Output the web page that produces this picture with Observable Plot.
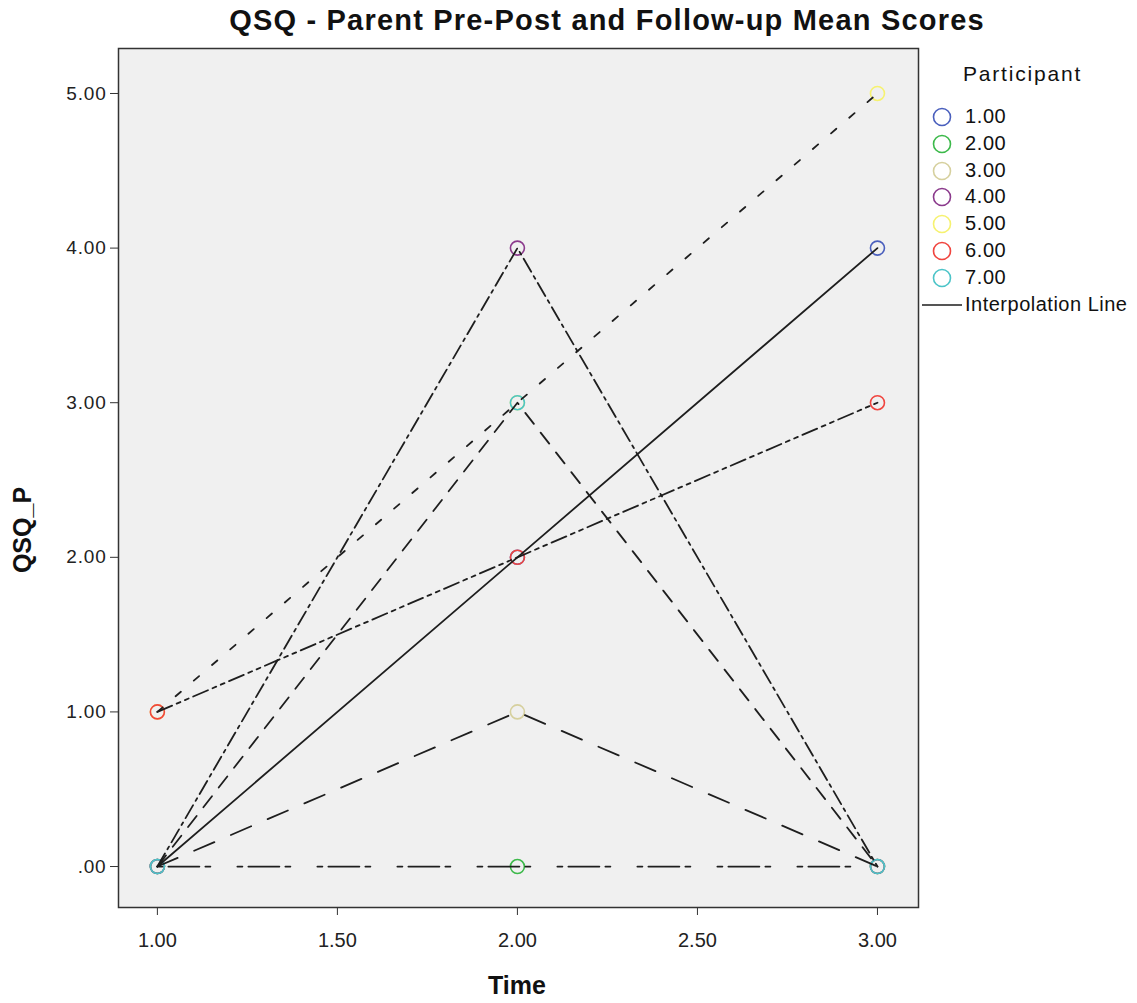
<!DOCTYPE html>
<html><head><meta charset="utf-8">
<script src="https://cdn.jsdelivr.net/npm/d3@7"></script>
<script src="https://cdn.jsdelivr.net/npm/@observablehq/plot@0.6"></script>
<style>
body{margin:0;background:#fff;font-family:"Liberation Sans",Arial,sans-serif;color:#111;}
#wrap{position:relative;width:1137px;height:1003px;overflow:hidden;}
#chart{position:absolute;left:0;top:0;}
#chart svg text{font-family:"Liberation Sans",Arial,sans-serif !important;}
#chart svg g[aria-label^="x-axis"] text{font-size:20px !important;}
#chart svg g[aria-label^="y-axis"] text{font-size:19px !important;letter-spacing:0.8px;}
.abs{position:absolute;white-space:nowrap;}
#title{left:607px;top:4px;transform:translateX(-50%);font-weight:bold;font-size:29px;letter-spacing:1.2px;}
#xlab{left:517px;top:971px;transform:translateX(-50%);font-weight:bold;font-size:25px;}
#ylab{left:22px;top:530px;transform:translate(-50%,-50%) rotate(-90deg);font-weight:bold;font-size:25px;}
#legend{left:0;top:0;}
.lt{font-size:20px;}
</style></head><body>
<div id="wrap">
  <div id="chart"></div>
  <div id="title" class="abs"></div>
  <div id="xlab" class="abs"></div>
  <div id="ylab" class="abs"></div>
  <div id="legend" class="abs"></div>
</div>
<script>
const titleText = "QSQ - Parent Pre-Post and Follow-up Mean Scores";
const xLabel = "Time";
const yLabel = "QSQ_P";
const legendTitle = "Participant";
const interpLabel = "Interpolation Line";

const times = [1, 2, 3];
const participants = ["1.00", "2.00", "3.00", "4.00", "5.00", "6.00", "7.00"];
const p1 = [0, 2, 4];
const p2 = [0, 0, 0];
const p3 = [0, 1, 0];
const p4 = [0, 4, 0];
const p5 = [1, 3, 5];
const p6 = [1, 2, 3];
const p7 = [0, 3, 0];
const series = [p1, p2, p3, p4, p5, p6, p7];
const colors = ["#4a5fbd", "#3cb94a", "#d6d09e", "#8b3a8c", "#f6f270", "#f0453f", "#4cc4c8"];
const dashes = [null, "5,6,31,6,5,27", "22,18", "15,5,3,5", "7,17", "16,5,4,5,4,5", "14,11"];
const xTicks = [1, 1.5, 2, 2.5, 3];
const yTicks = [0, 1, 2, 3, 4, 5];

const data = [];
series.forEach((vals, i) => vals.forEach((v, j) => data.push({participant: participants[i], idx: i, time: times[j], value: v})));

const lineMarks = series.map((vals, i) => Plot.line(data.filter(d => d.idx === i), {
  x: "time", y: "value", stroke: "#1e1e1e", strokeWidth: 1.8, strokeDasharray: dashes[i]
}));

const fmtY = d => d === 0 ? ".00" : d.toFixed(2);

const plot = Plot.plot({
  width: 1137, height: 1003,
  marginLeft: 118, marginRight: 219, marginTop: 48, marginBottom: 96,
  style: {fontFamily: "'Liberation Sans', Arial, sans-serif", fontSize: "16px", background: "transparent", color: "#222"},
  x: {domain: [0.892, 3.114]},
  y: {domain: [-0.265, 5.291]},
  color: {domain: participants, range: colors},
  marks: [
    Plot.frame({fill: "#f0f0f0", stroke: null}),
    Plot.dot(data, {x: "time", y: "value", stroke: "participant", r: 7, strokeWidth: 1.6, fill: "none"}),
    ...lineMarks,
    Plot.frame({stroke: "#333", strokeWidth: 1.5}),
    Plot.axisY(yTicks, {tickFormat: fmtY, tickSize: 8, tickPadding: 4, label: null, stroke: "#333", fill: "#222"}),
    Plot.axisX(xTicks, {tickFormat: d => d.toFixed(2), tickSize: 8, tickPadding: 17, label: null, stroke: "#333", fill: "#222"})
  ]
});
document.getElementById("chart").appendChild(plot);
document.getElementById("title").textContent = titleText;
document.getElementById("xlab").textContent = xLabel;
document.getElementById("ylab").textContent = yLabel;

// legend
const lg = document.getElementById("legend");
let html = `<div class="abs" style="left:963px;top:62px;font-size:21px;letter-spacing:1.8px;">${legendTitle}</div>`;
participants.forEach((p, i) => {
  const cy = 117 + i * 26.8;
  html += `<svg class="abs" style="left:932px;top:${cy - 10}px" width="20" height="20"><circle cx="10" cy="10" r="8.5" fill="none" stroke="${colors[i]}" stroke-width="1.6"/></svg>`;
  html += `<div class="abs lt" style="left:965px;top:${cy - 12}px;letter-spacing:0.6px;">${p}</div>`;
});
const iy = 117 + 7 * 26.8;
html += `<svg class="abs" style="left:920px;top:${iy - 5}px" width="44" height="10"><line x1="2" x2="42" y1="5" y2="5" stroke="#555" stroke-width="2"/></svg>`;
html += `<div class="abs lt" style="left:965px;top:${iy - 12}px;letter-spacing:0.5px;">${interpLabel}</div>`;
lg.innerHTML = html;
</script>
</body></html>
